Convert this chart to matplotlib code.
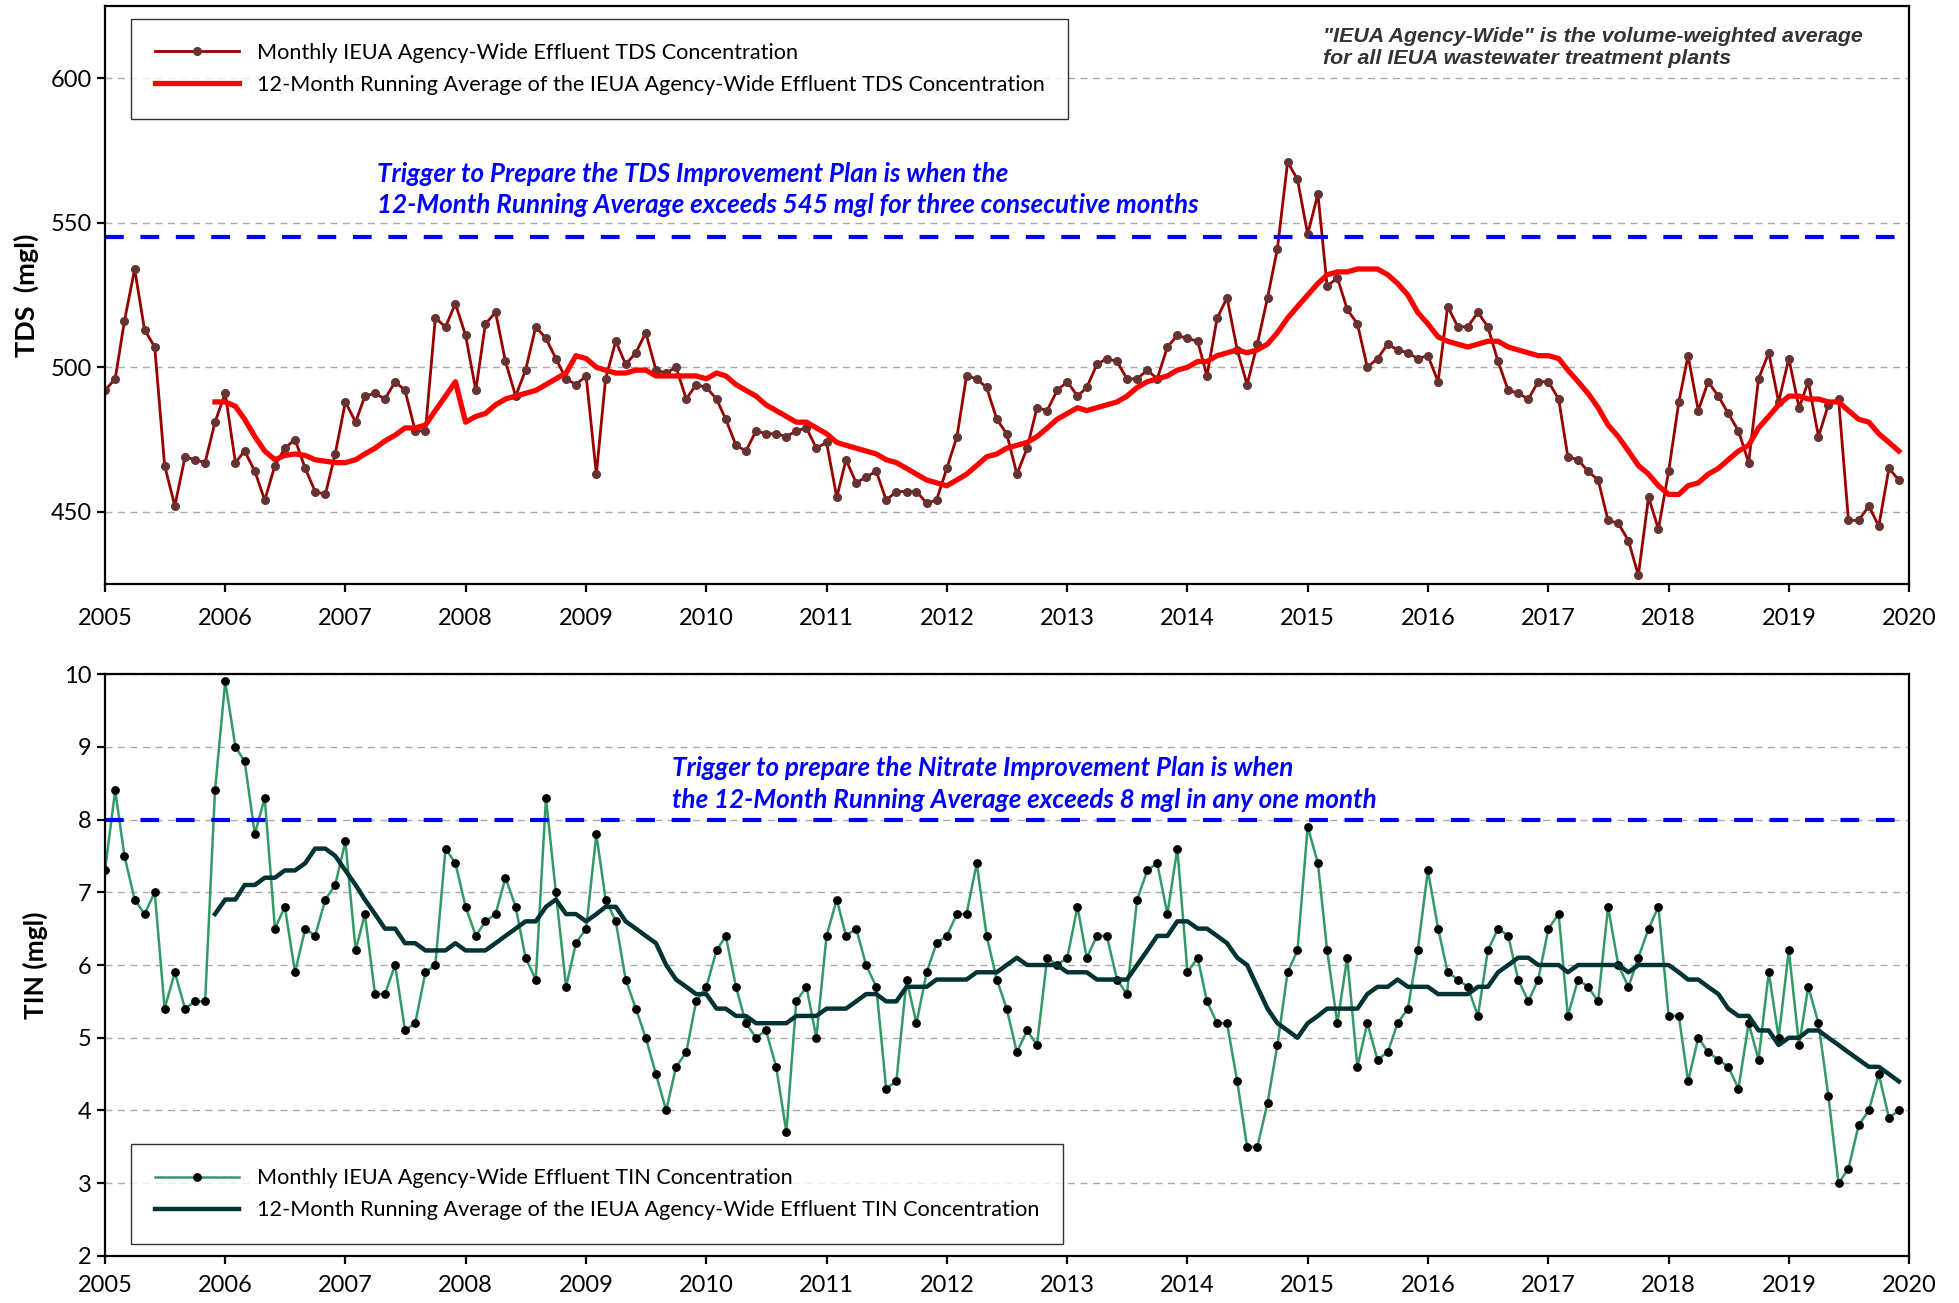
import matplotlib
matplotlib.use("Agg")
import matplotlib.pyplot as plt
import matplotlib.dates as mdates
import pandas as pd

plt.rcParams['font.family'] = ['Lato', 'DejaVu Sans']

# monthly values, Jan 2005 - Dec 2019
months = pd.date_range('2005-01-01', periods=180, freq='MS')

tds_monthly = [
    492, 496, 516, 534, 513, 507, 466, 452, 469, 468, 467, 481,
    491, 467, 471, 464, 454, 466, 472, 475, 465, 457, 456, 470,
    488, 481, 490, 491, 489, 495, 492, 478, 478, 517, 514, 522,
    511, 492, 515, 519, 502, 490, 499, 514, 510, 503, 496, 494,
    497, 463, 496, 509, 501, 505, 512, 499, 498, 500, 489, 494,
    493, 489, 482, 473, 471, 478, 477, 477, 476, 478, 479, 472,
    474, 455, 468, 460, 462, 464, 454, 457, 457, 457, 453, 454,
    465, 476, 497, 496, 493, 482, 477, 463, 472, 486, 485, 492,
    495, 490, 493, 501, 503, 502, 496, 496, 499, 496, 507, 511,
    510, 509, 497, 517, 524, 506, 494, 508, 524, 541, 571, 565,
    546, 560, 528, 531, 520, 515, 500, 503, 508, 506, 505, 503,
    504, 495, 521, 514, 514, 519, 514, 502, 492, 491, 489, 495,
    495, 489, 469, 468, 464, 461, 447, 446, 440, 428, 455, 444,
    464, 488, 504, 485, 495, 490, 484, 478, 467, 496, 505, 488,
    503, 486, 495, 476, 487, 489, 447, 447, 452, 445, 465, 461,
]

# 12-month running average, starts Dec 2005
tds_avg = [
    488,
    488, 486.5, 482, 476, 471, 468, 469.5, 470, 469.5, 468, 467.5, 467,
    467, 468, 470, 472, 474.5, 476.5, 479, 479, 480, 485, 490, 495,
    481, 483, 484, 487, 489, 490, 491, 492, 494, 496, 498, 504,
    503, 500, 499, 498, 498, 499, 499, 497, 497, 497, 497, 497,
    496, 498, 497, 494, 492, 490, 487, 485, 483, 481, 481, 479,
    477, 474, 473, 472, 471, 470, 468, 467, 465, 463, 461, 460,
    459, 461, 463, 466, 469, 470, 472, 473, 474, 476, 479, 482,
    484, 486, 485, 486, 487, 488, 490, 493, 495, 496, 497, 499,
    500, 502, 502, 504, 505, 506, 505, 506, 508, 512, 517, 521,
    525, 529, 532, 533, 533, 534, 534, 534, 532, 529, 525, 519,
    515, 510.5, 509, 508, 507, 508, 509, 509, 507, 506, 505, 504,
    504, 503, 499, 495, 491, 486, 480, 476, 471, 466, 463, 459,
    456, 456, 459, 460, 463, 465, 468, 471, 473, 479, 483, 487,
    490, 490, 489, 489, 488, 488, 485, 482, 481, 477, 474, 471,
]

tin_monthly = [
    7.3, 8.4, 7.5, 6.9, 6.7, 7.0, 5.4, 5.9, 5.4, 5.5, 5.5, 8.4,
    9.9, 9.0, 8.8, 7.8, 8.3, 6.5, 6.8, 5.9, 6.5, 6.4, 6.9, 7.1,
    7.7, 6.2, 6.7, 5.6, 5.6, 6.0, 5.1, 5.2, 5.9, 6.0, 7.6, 7.4,
    6.8, 6.4, 6.6, 6.7, 7.2, 6.8, 6.1, 5.8, 8.3, 7.0, 5.7, 6.3,
    6.5, 7.8, 6.9, 6.6, 5.8, 5.4, 5.0, 4.5, 4.0, 4.6, 4.8, 5.5,
    5.7, 6.2, 6.4, 5.7, 5.2, 5.0, 5.1, 4.6, 3.7, 5.5, 5.7, 5.0,
    6.4, 6.9, 6.4, 6.5, 6.0, 5.7, 4.3, 4.4, 5.8, 5.2, 5.9, 6.3,
    6.4, 6.7, 6.7, 7.4, 6.4, 5.8, 5.4, 4.8, 5.1, 4.9, 6.1, 6.0,
    6.1, 6.8, 6.1, 6.4, 6.4, 5.8, 5.6, 6.9, 7.3, 7.4, 6.7, 7.6,
    5.9, 6.1, 5.5, 5.2, 5.2, 4.4, 3.5, 3.5, 4.1, 4.9, 5.9, 6.2,
    7.9, 7.4, 6.2, 5.2, 6.1, 4.6, 5.2, 4.7, 4.8, 5.2, 5.4, 6.2,
    7.3, 6.5, 5.9, 5.8, 5.7, 5.3, 6.2, 6.5, 6.4, 5.8, 5.5, 5.8,
    6.5, 6.7, 5.3, 5.8, 5.7, 5.5, 6.8, 6.0, 5.7, 6.1, 6.5, 6.8,
    5.3, 5.3, 4.4, 5.0, 4.8, 4.7, 4.6, 4.3, 5.2, 4.7, 5.9, 5.0,
    6.2, 4.9, 5.7, 5.2, 4.2, 3.0, 3.2, 3.8, 4.0, 4.5, 3.9, 4.0,
]

tin_avg = [
    6.7,
    6.9, 6.9, 7.1, 7.1, 7.2, 7.2, 7.3, 7.3, 7.4, 7.6, 7.6, 7.5,
    7.3, 7.1, 6.9, 6.7, 6.5, 6.5, 6.3, 6.3, 6.2, 6.2, 6.2, 6.3,
    6.2, 6.2, 6.2, 6.3, 6.4, 6.5, 6.6, 6.6, 6.8, 6.9, 6.7, 6.7,
    6.6, 6.7, 6.8, 6.8, 6.6, 6.5, 6.4, 6.3, 6.0, 5.8, 5.7, 5.6,
    5.6, 5.4, 5.4, 5.3, 5.3, 5.2, 5.2, 5.2, 5.2, 5.3, 5.3, 5.3,
    5.4, 5.4, 5.4, 5.5, 5.6, 5.6, 5.5, 5.5, 5.7, 5.7, 5.7, 5.8,
    5.8, 5.8, 5.8, 5.9, 5.9, 5.9, 6.0, 6.1, 6.0, 6.0, 6.0, 6.0,
    5.9, 5.9, 5.9, 5.8, 5.8, 5.8, 5.8, 6.0, 6.2, 6.4, 6.4, 6.6,
    6.6, 6.5, 6.5, 6.4, 6.3, 6.1, 6.0, 5.7, 5.4, 5.2, 5.1, 5.0,
    5.2, 5.3, 5.4, 5.4, 5.4, 5.4, 5.6, 5.7, 5.7, 5.8, 5.7, 5.7,
    5.7, 5.6, 5.6, 5.6, 5.6, 5.7, 5.7, 5.9, 6.0, 6.1, 6.1, 6.0,
    6.0, 6.0, 5.9, 6.0, 6.0, 6.0, 6.0, 6.0, 5.9, 6.0, 6.0, 6.0,
    6.0, 5.9, 5.8, 5.8, 5.7, 5.6, 5.4, 5.3, 5.3, 5.1, 5.1, 4.9,
    5.0, 5.0, 5.1, 5.1, 5.0, 4.9, 4.8, 4.7, 4.6, 4.6, 4.5, 4.4,
]

tds_trigger = 545
tin_trigger = 8

fig = plt.figure(figsize=(19.59, 13.03), dpi=100)
ax1 = fig.add_axes([0.0536, 0.5518, 0.9209, 0.4436])
ax2 = fig.add_axes([0.0536, 0.0361, 0.9209, 0.4466])

blue_dash = (0, (4.5, 4))
note_font = ['Liberation Sans', 'DejaVu Sans']

def style_axis(ax, xpad):
    ax.set_xlim(pd.Timestamp('2005-01-01'), pd.Timestamp('2020-01-01'))
    ax.xaxis.set_major_locator(mdates.YearLocator())
    ax.xaxis.set_major_formatter(mdates.DateFormatter('%Y'))
    ax.grid(axis='y', color='#aaaaaa', linestyle=(0, (5, 4)), linewidth=1.0)
    ax.set_axisbelow(True)
    for s in ax.spines.values():
        s.set_linewidth(1.6)
    ax.tick_params(axis='both', labelsize=17, width=1.6, length=6, direction='out')
    ax.tick_params(axis='x', pad=xpad)

def add_legend(ax, loc, anchor):
    leg = ax.legend(loc=loc, bbox_to_anchor=anchor, borderaxespad=0,
                    fontsize=15.6, frameon=True, fancybox=False, edgecolor='black',
                    handlelength=3.9, borderpad=1.1, labelspacing=0.55,
                    handletextpad=0.8)
    leg.get_frame().set_linewidth(1.0)

def blue_text(ax, x, y, s):
    ax.text(x, y, s, transform=ax.transAxes, color='#0000ff', fontsize=18.7,
            fontweight='bold', style='italic', va='center', ha='left')

# TDS panel
ax1.plot(months, tds_monthly, color='#990000', lw=2.0, marker='o', ms=5.5,
         mfc='#663333', mec='#663333',
         label='Monthly IEUA Agency-Wide Effluent TDS Concentration')
ax1.plot(months[11:], tds_avg, color='#ff0000', lw=3.8,
         label='12-Month Running Average of the IEUA Agency-Wide Effluent TDS Concentration')
ax1.axhline(tds_trigger, color='#0000ff', lw=3, linestyle=blue_dash)
ax1.set_ylim(425, 625)
ax1.set_yticks([450, 500, 550, 600])
style_axis(ax1, 11)
ax1.set_ylabel('TDS  (mgl)', fontsize=19.5, fontweight='bold', labelpad=8)
add_legend(ax1, 'upper left', (0.0144, 0.9775))
blue_text(ax1, 0.1508, 0.710, 'Trigger to Prepare the TDS Improvement Plan is when the')
blue_text(ax1, 0.1508, 0.6565, '12-Month Running Average exceeds 545 mgl for three consecutive months')
ax1.text(0.675, 0.947, '"IEUA Agency-Wide" is the volume-weighted average',
         transform=ax1.transAxes, color='#333333', fontsize=15.4, fontweight='bold',
         style='italic', va='center', ha='left', family=note_font)
ax1.text(0.675, 0.909, 'for all IEUA wastewater treatment plants',
         transform=ax1.transAxes, color='#333333', fontsize=15.4, fontweight='bold',
         style='italic', va='center', ha='left', family=note_font)

# TIN panel
ax2.plot(months, tin_monthly, color='#339966', lw=1.8, marker='o', ms=5.3,
         mfc='black', mec='black',
         label='Monthly IEUA Agency-Wide Effluent TIN Concentration')
ax2.plot(months[11:], tin_avg, color='#003333', lw=3.2,
         label='12-Month Running Average of the IEUA Agency-Wide Effluent TIN Concentration')
ax2.axhline(tin_trigger, color='#0000ff', lw=3, linestyle=blue_dash)
ax2.set_ylim(2, 10)
ax2.set_yticks(range(2, 11))
style_axis(ax2, 7.5)
ax2.set_ylabel('TIN (mgl)', fontsize=19, fontweight='bold', labelpad=12)
add_legend(ax2, 'lower left', (0.0144, 0.0206))
blue_text(ax2, 0.3143, 0.839, 'Trigger to prepare the Nitrate Improvement Plan is when')
blue_text(ax2, 0.3143, 0.783, 'the 12-Month Running Average exceeds 8 mgl in any one month')

fig.savefig('out.png', dpi=100)
